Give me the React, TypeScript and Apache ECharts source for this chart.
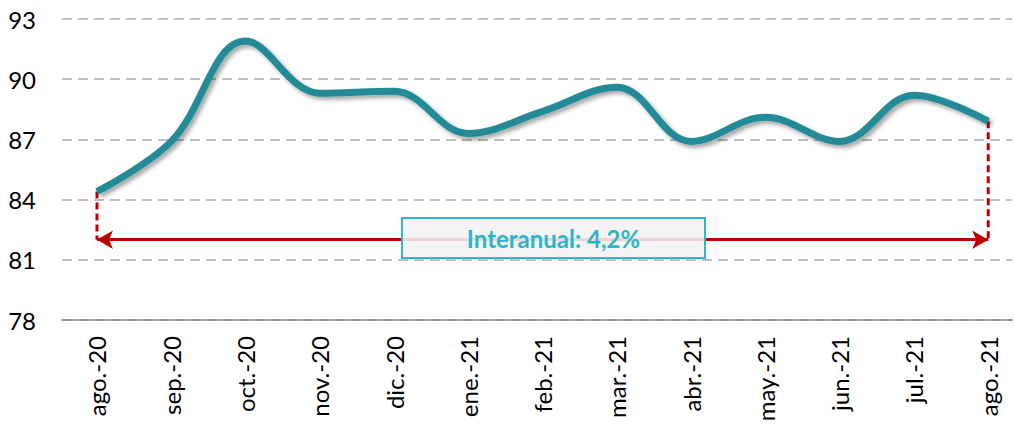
import React, { useEffect, useRef } from "react";
import * as echarts from "echarts";

const categories = [
  "ago.-20", "sep.-20", "oct.-20", "nov.-20", "dic.-20", "ene.-21", "feb.-21",
  "mar.-21", "abr.-21", "may.-21", "jun.-21", "jul.-21", "ago.-21",
];
const values = [84.4, 86.9, 91.9, 89.3, 89.4, 87.3, 88.4, 89.6, 86.9, 88.1, 86.9, 89.2, 87.9];
const yTicks = { min: 78, max: 93, interval: 3 };
const arrowLevel = 82;
const annotation = "Interanual: 4,2%";

export default function App() {
  const ref = useRef<HTMLDivElement>(null);
  useEffect(() => {
    if (!ref.current) return;
    const chart = echarts.init(ref.current, null, { renderer: "svg" });
    const last = values.length - 1;
    const red = "#c00000";
    chart.setOption({
      animation: false,
      textStyle: { fontFamily: "Lato" },
      grid: { left: 62, right: 2, top: 19, bottom: 105 },
      xAxis: {
        type: "value",
        min: -0.471,
        max: 12.32,
        splitLine: { show: false },
        axisTick: { show: false },
        axisLine: { show: true, onZero: false, lineStyle: { color: "#868686", width: 1.5 } },
        axisLabel: {
          customValues: categories.map((_, i) => i),
          formatter: (v: number) => categories[Math.round(v)],
          rotate: 90,
          fontSize: 24,
          color: "#000",
          margin: 16,
          fontFamily: "Lato",
        },
      },
      yAxis: {
        type: "value",
        min: yTicks.min,
        max: yTicks.max,
        interval: yTicks.interval,
        axisLine: { show: false },
        axisTick: { show: false },
        axisLabel: { fontSize: 24, color: "#000", margin: 26, fontFamily: "Lato" },
        splitLine: { lineStyle: { color: "#bfbfbf", width: 2, type: [10, 6] } },
      },
      series: [
        {
          type: "line",
          data: [[0, values[0]], [0, arrowLevel]],
          symbol: "none",
          lineStyle: { color: red, width: 3, type: [7, 4] },
          z: 2,
          markLine: {
            silent: true,
            symbol: ["arrow", "arrow"],
            symbolSize: [14, 16],
            label: { show: false },
            lineStyle: { color: red, width: 3, type: "solid" },
            data: [[{ coord: [0, arrowLevel] }, { coord: [last, arrowLevel] }]],
          },
        },
        {
          type: "line",
          data: [[last, values[last]], [last, arrowLevel]],
          symbol: "none",
          lineStyle: { color: red, width: 3, type: [7, 4] },
          z: 2,
        },
        {
          type: "line",
          data: values.map((v, i) => [i, v]),
          smooth: 0.38,
          symbol: "none",
          z: 3,
          lineStyle: {
            color: "#218b97",
            width: 7,
            shadowColor: "rgba(0,0,0,0.35)",
            shadowBlur: 4,
            shadowOffsetX: 3,
            shadowOffsetY: 3,
          },
        },
      ],
      graphic: [
        {
          type: "rect",
          z: 100,
          zlevel: 0,
          shape: { x: 402, y: 218, width: 303, height: 40 },
          style: { fill: "rgba(242,242,242,0.88)", stroke: "#2fb6ca", lineWidth: 2 },
        },
        {
          type: "text",
          z: 101,
          x: 553.5,
          y: 238,
          style: {
            text: annotation,
            fill: "#2cb5c8",
            font: "bold 24px Lato",
            align: "center",
            verticalAlign: "middle",
          },
        },
      ],
    });
    return () => chart.dispose();
  }, []);
  return (
    <div
      ref={ref}
      style={{ position: "fixed", left: 0, top: 0, width: 1014, height: 425, background: "#fff" }}
    />
  );
}
